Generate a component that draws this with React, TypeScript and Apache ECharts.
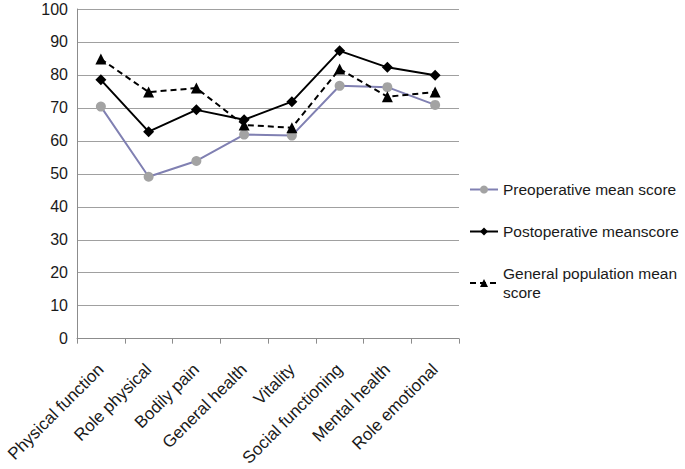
import React, { useEffect, useRef } from "react";
import * as echarts from "echarts";

const categories = [
  "Physical function",
  "Role physical",
  "Bodily pain",
  "General health",
  "Vitality",
  "Social functioning",
  "Mental health",
  "Role emotional",
];
const preoperative = [70.4, 49.1, 53.9, 61.9, 61.6, 76.7, 76.3, 70.9];
const postoperative = [78.5, 62.8, 69.4, 66.4, 71.9, 87.3, 82.3, 79.9];
const generalPopulation = [84.8, 74.8, 76.0, 64.8, 64.0, 81.8, 73.4, 74.8];
const yTicks = { min: 0, max: 100, interval: 10 };

export default function App() {
  const ref = useRef<HTMLDivElement>(null);
  useEffect(() => {
    document.body.style.margin = "0";
    const chart = echarts.init(ref.current!, null, { renderer: "svg" });
    const font = "Liberation Sans, Arial, sans-serif";
    chart.setOption({
      animation: false,
      textStyle: { fontFamily: font },
      grid: { left: 77, right: 226, top: 9, bottom: 130, containLabel: false },
      xAxis: {
        type: "category",
        data: categories,
        boundaryGap: true,
        axisLine: { lineStyle: { color: "#8c8c8c", width: 1 } },
        axisTick: { show: true, length: 5, lineStyle: { color: "#8c8c8c" } },
        axisLabel: { rotate: 45, fontSize: 17, color: "#1a1a1a", fontFamily: font, margin: 28 },
      },
      yAxis: {
        type: "value",
        min: yTicks.min,
        max: yTicks.max,
        interval: yTicks.interval,
        axisLine: { show: true, lineStyle: { color: "#8c8c8c", width: 1 } },
        axisTick: { show: false },
        splitLine: { lineStyle: { color: "#a0a0a0", width: 1 } },
        axisLabel: { fontSize: 16, color: "#1a1a1a", fontFamily: font, margin: 9 },
      },
      legend: {
        orient: "vertical",
        left: 464,
        top: 175,
        itemGap: 23,
        itemWidth: 28,
        itemHeight: 10,
        textStyle: { fontSize: 15.5, color: "#1a1a1a", fontFamily: font, lineHeight: 19 },
        formatter: (name: string) =>
          name === "General population mean score" ? "General population mean\nscore" : name,
      },
      series: [
        {
          name: "Preoperative mean score",
          type: "line",
          data: preoperative,
          symbol: "circle",
          symbolSize: 10,
          lineStyle: { color: "#8080b2", width: 2 },
          itemStyle: { color: "#a3a3a3" },
        },
        {
          name: "Postoperative meanscore",
          type: "line",
          data: postoperative,
          symbol: "diamond",
          symbolSize: 11,
          lineStyle: { color: "#000000", width: 2 },
          itemStyle: { color: "#000000" },
        },
        {
          name: "General population mean score",
          type: "line",
          data: generalPopulation,
          symbol: "triangle",
          symbolSize: 11,
          lineStyle: { color: "#000000", width: 2, type: [6, 4] },
          itemStyle: { color: "#000000" },
        },
      ],
    });
    return () => chart.dispose();
  }, []);
  return <div ref={ref} style={{ width: 685, height: 469, background: "#fff" }} />;
}
